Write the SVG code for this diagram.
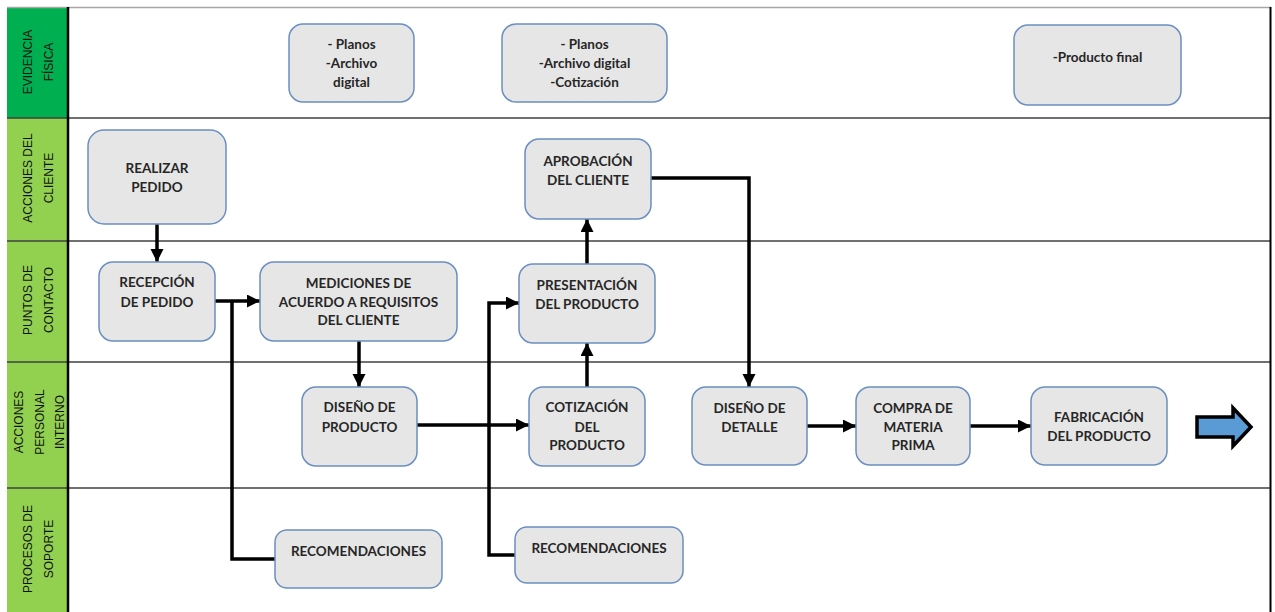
<svg xmlns="http://www.w3.org/2000/svg" width="1275" height="612" viewBox="0 0 1275 612">
<style>
.bg{fill:#ffffff}
.lane1{fill:#00b050}
.lane{fill:#92d050}
.sep{stroke:#404040;stroke-width:1.6;fill:none}
.lbl{font-family:"Liberation Sans",Arial,sans-serif;font-size:12px;fill:#111111}
.box{fill:#e6e6e6;stroke:#6b8fc0;stroke-width:1.5}
.t{font-family:Lato,"Liberation Sans",sans-serif;font-weight:bold;font-size:13.5px;fill:#262626;text-anchor:middle}
.c{stroke:#000000;stroke-width:3.5;fill:none}
.ca{stroke:#000000;stroke-width:3.5;fill:none;marker-end:url(#ah)}
</style>
<defs>
<marker id="ah" markerUnits="userSpaceOnUse" markerWidth="14" markerHeight="14" refX="13" refY="6.5" orient="auto">
<path d="M0,0 L13,6.5 L0,13 z" fill="#000000"/>
</marker>
</defs>
<rect class="bg" x="0" y="0" width="1275" height="612"/>
<g id="lanes">
<rect class="lane1" x="7" y="8" width="61" height="110"/>
<rect class="lane" x="7" y="118" width="61" height="494"/>
<line x1="7" y1="7.5" x2="1271" y2="7.5" stroke="#a6a6a6" stroke-width="1.5"/>
<line class="sep" x1="7" y1="118" x2="1271" y2="118"/>
<line class="sep" x1="7" y1="241" x2="1271" y2="241"/>
<line class="sep" x1="7" y1="362" x2="1271" y2="362"/>
<line class="sep" x1="7" y1="488" x2="1271" y2="488"/>
<line x1="68" y1="7" x2="68" y2="612" stroke="#000000" stroke-width="2.5"/>
<line x1="1270.5" y1="7" x2="1270.5" y2="612" stroke="#000000" stroke-width="2"/>
<text class="lbl" text-anchor="middle" transform="translate(0,62) rotate(-90)"><tspan x="0" y="31.5">EVIDENCIA</tspan><tspan x="0" y="52.5">FÍSICA</tspan></text>
<text class="lbl" text-anchor="middle" transform="translate(0,178) rotate(-90)"><tspan x="0" y="32">ACCIONES DEL</tspan><tspan x="0" y="52.5">CLIENTE</tspan></text>
<text class="lbl" text-anchor="middle" transform="translate(0,300) rotate(-90)"><tspan x="0" y="32">PUNTOS DE</tspan><tspan x="0" y="52.5">CONTACTO</tspan></text>
<text class="lbl" text-anchor="middle" transform="translate(0,422) rotate(-90)"><tspan x="0" y="23">ACCIONES</tspan><tspan x="0" y="44">PERSONAL</tspan><tspan x="0" y="63.5">INTERNO</tspan></text>
<text class="lbl" text-anchor="middle" transform="translate(0,549) rotate(-90)"><tspan x="0" y="32">PROCESOS DE</tspan><tspan x="0" y="52.5">SOPORTE</tspan></text>
</g>
<g id="connectors">
<path class="ca" d="M157,224 V262"/>
<path class="ca" d="M215,301 H260"/>
<path class="c" d="M275,559 H232 V301"/>
<path class="ca" d="M359,341 V387"/>
<path class="ca" d="M417,425 H529"/>
<path class="ca" d="M515,555 H489 V303 H519"/>
<path class="ca" d="M587,387 V343"/>
<path class="ca" d="M587,264 V219"/>
<path class="ca" d="M651,178 H749 V387"/>
<path class="ca" d="M807,426 H856"/>
<path class="ca" d="M970,426 H1031"/>
</g>
<g id="ev1"><rect class="box" x="289" y="24" width="125" height="78" rx="14"/><text class="t"><tspan x="351.5" y="49">- Planos</tspan><tspan x="351.5" y="68">-Archivo</tspan><tspan x="351.5" y="87">digital</tspan></text></g>
<g id="ev2"><rect class="box" x="502" y="24" width="165" height="78" rx="14"/><text class="t"><tspan x="584.5" y="49">- Planos</tspan><tspan x="584.5" y="68">-Archivo digital</tspan><tspan x="584.5" y="87">-Cotización</tspan></text></g>
<g id="ev3"><rect class="box" x="1014" y="25" width="167" height="80" rx="14"/><text class="t"><tspan x="1097.5" y="62">-Producto final</tspan></text></g>
<g id="realizar"><rect class="box" x="88" y="130" width="138" height="94" rx="16"/><text class="t"><tspan x="157" y="173">REALIZAR</tspan><tspan x="157" y="192">PEDIDO</tspan></text></g>
<g id="aprobacion"><rect class="box" x="525" y="139" width="126" height="80" rx="14"/><text class="t"><tspan x="588" y="166">APROBACIÓN</tspan><tspan x="588" y="185">DEL CLIENTE</tspan></text></g>
<g id="recepcion"><rect class="box" x="99" y="262" width="116" height="79" rx="14"/><text class="t"><tspan x="157" y="287">RECEPCIÓN</tspan><tspan x="157" y="307">DE PEDIDO</tspan></text></g>
<g id="mediciones"><rect class="box" x="260" y="262" width="197" height="79" rx="14"/><text class="t"><tspan x="358.5" y="288">MEDICIONES DE</tspan><tspan x="358.5" y="307">ACUERDO A REQUISITOS</tspan><tspan x="358.5" y="325">DEL CLIENTE</tspan></text></g>
<g id="presentacion"><rect class="box" x="519" y="264" width="136" height="79" rx="14"/><text class="t"><tspan x="587" y="290">PRESENTACIÓN</tspan><tspan x="587" y="309">DEL PRODUCTO</tspan></text></g>
<g id="diseno"><rect class="box" x="302" y="387" width="115" height="79" rx="14"/><text class="t"><tspan x="359.5" y="412">DISEÑO DE</tspan><tspan x="359.5" y="432">PRODUCTO</tspan></text></g>
<g id="cotizacion"><rect class="box" x="529" y="387" width="116" height="79" rx="14"/><text class="t"><tspan x="587" y="412">COTIZACIÓN</tspan><tspan x="587" y="432">DEL</tspan><tspan x="587" y="450">PRODUCTO</tspan></text></g>
<g id="detalle"><rect class="box" x="692" y="387" width="115" height="78" rx="14"/><text class="t"><tspan x="749.5" y="413">DISEÑO DE</tspan><tspan x="749.5" y="432">DETALLE</tspan></text></g>
<g id="compra"><rect class="box" x="856" y="387" width="114" height="78" rx="14"/><text class="t"><tspan x="913" y="413">COMPRA DE</tspan><tspan x="913" y="432">MATERIA</tspan><tspan x="913" y="450">PRIMA</tspan></text></g>
<g id="fabricacion"><rect class="box" x="1031" y="387" width="136" height="78" rx="14"/><text class="t"><tspan x="1099" y="422">FABRICACIÓN</tspan><tspan x="1099" y="441">DEL PRODUCTO</tspan></text></g>
<g id="recom1"><rect class="box" x="275" y="530" width="167" height="58" rx="12"/><text class="t"><tspan x="358.5" y="556">RECOMENDACIONES</tspan></text></g>
<g id="recom2"><rect class="box" x="515" y="527" width="168" height="56" rx="12"/><text class="t"><tspan x="599" y="553">RECOMENDACIONES</tspan></text></g>
<g id="next"><path d="M1197,417 H1233 V408 L1251,427 L1233,446 V437 H1197 z" fill="#5b9bd5" stroke="#000000" stroke-width="3.5" stroke-linejoin="miter"/></g>
</svg>
